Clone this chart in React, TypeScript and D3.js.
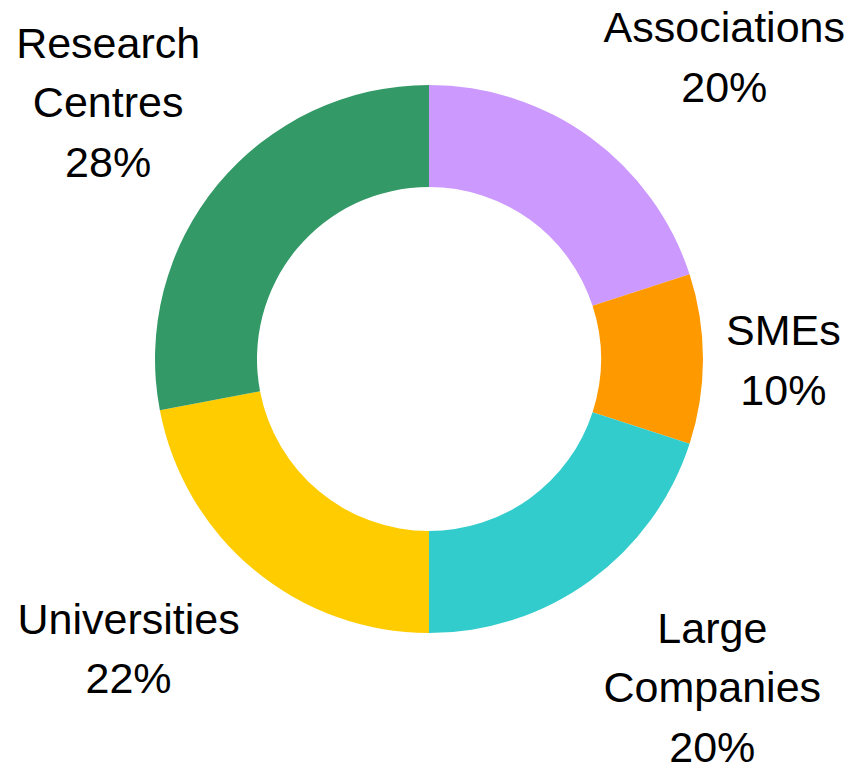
import React from "react";
import * as d3 from "d3";

const categories = ["Associations", "SMEs", "Large Companies", "Universities", "Research Centres"];
const values = [20, 10, 20, 22, 28];
const labelLines = [["Associations"], ["SMEs"], ["Large", "Companies"], ["Universities"], ["Research", "Centres"]];
const colors = ["#CC99FF", "#FF9900", "#33CCCC", "#FFCC00", "#339966"];

const W = 862;
const H = 769;
const FONT = 43;
const LINE_H = 59.5;
const FONT_FAMILY = "'Liberation Sans', Arial, sans-serif";

function measure(text: string): number {
  const c = document.createElement("canvas");
  const ctx = c.getContext("2d")!;
  ctx.font = `${FONT}px ${FONT_FAMILY}`;
  return ctx.measureText(text).width;
}

export default function App() {
  const cx = 429;
  const cy = 359;
  const outerR = 274;
  const innerR = 172;
  const labelRx = 297;
  const labelRy = 325;
  const labelDy = 5;

  const pie = d3.pie<number>().sort(null).value((d) => d)(values);
  const arc = d3.arc<d3.PieArcDatum<number>>().innerRadius(innerR).outerRadius(outerR);
  const total = d3.sum(values);

  return (
    <svg width={W} height={H} style={{ position: "absolute", left: 0, top: 0, background: "#fff" }}>
      <g transform={`translate(${cx},${cy})`}>
        {pie.map((p, i) => (
          <path key={categories[i]} d={arc(p) || ""} fill={colors[i]} />
        ))}
      </g>
      {pie.map((p, i) => {
        const lines = [...labelLines[i], `${Math.round((values[i] / total) * 100)}%`];
        const mid = (p.startAngle + p.endAngle) / 2;
        const dx = Math.sin(mid);
        const dy = -Math.cos(mid);
        const w = d3.max(lines, (l) => measure(l)) || 0;
        const capH = FONT * 0.716;
        const desc = 9;
        const h = capH + (lines.length - 1) * LINE_H + desc;
        const sx = Math.abs(dx) < 0.05 ? 0 : Math.sign(dx);
        const bcx = cx + dx * labelRx + sx * (w / 2);
        const bcy = cy + dy * (labelRy + h / 2) + labelDy;
        const firstBaseline = bcy - h / 2 + capH;
        return (
          <text
            key={"l" + i}
            x={bcx}
            y={firstBaseline}
            textAnchor="middle"
            fontFamily={FONT_FAMILY}
            fontSize={FONT}
            fill="#000"
          >
            {lines.map((l, j) => (
              <tspan key={j} x={bcx} y={firstBaseline + j * LINE_H}>
                {l}
              </tspan>
            ))}
          </text>
        );
      })}
    </svg>
  );
}
